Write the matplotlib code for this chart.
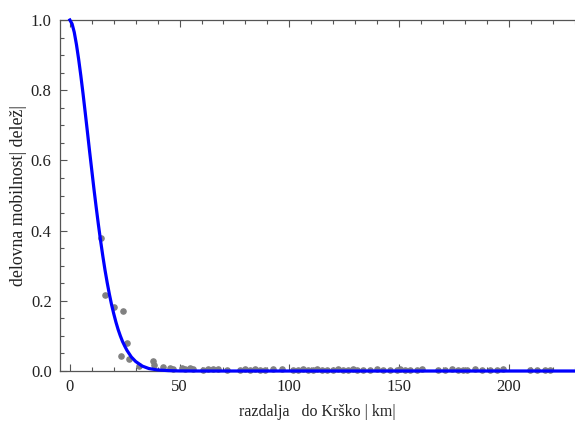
import numpy as np
import matplotlib.pyplot as plt
from matplotlib.ticker import MultipleLocator

plt.rcParams['font.family'] = ['Liberation Serif', 'DejaVu Serif']

# observed shares (gray points)
dist = [14.2, 16.1, 19.9, 24.3, 26.1, 23.1, 26.9, 31.7, 38.1, 38.4, 42.4, 45.6,
        47.0, 50.9, 52.5, 54.7, 56.0, 60.7, 62.9, 65.2, 67.5, 71.6, 77.5, 79.8,
        82.0, 84.4, 86.6, 88.9, 92.6, 96.7, 101.7, 104.0, 106.2, 108.5, 110.8,
        112.6, 114.9, 117.2, 119.9, 122.2, 124.5, 126.7, 129.0, 130.9, 133.6,
        136.8, 140.0, 142.7, 145.9, 149.0, 150.4, 152.7, 155.0, 158.2, 160.5,
        167.8, 171.0, 174.2, 176.9, 179.2, 181.0, 184.6, 187.8, 191.5, 194.6,
        197.4, 209.7, 212.9, 216.5, 218.8]
share = [0.378, 0.216, 0.181, 0.171, 0.081, 0.042, 0.033, 0.015, 0.028, 0.017,
         0.012, 0.008, 0.007, 0.009, 0.006, 0.009, 0.005, 0.004, 0.006, 0.005,
         0.006, 0.004, 0.003, 0.005, 0.004, 0.005, 0.003, 0.004, 0.005, 0.006,
         0.003, 0.004, 0.005, 0.003, 0.004, 0.005, 0.003, 0.004, 0.003, 0.005,
         0.004, 0.003, 0.005, 0.004, 0.003, 0.004, 0.005, 0.003, 0.004, 0.003,
         0.005, 0.004, 0.003, 0.004, 0.005, 0.003, 0.004, 0.005, 0.003, 0.004,
         0.003, 0.005, 0.004, 0.003, 0.004, 0.005, 0.004, 0.003, 0.004, 0.003]

# fitted curve (blue)
fit_x = [0, 1, 2, 3, 4, 5, 6, 7, 8, 9, 10, 11, 12, 13, 14, 15, 16, 17, 18,
         19, 20, 21, 22, 23, 24, 25, 26, 28, 30, 33, 36, 40, 45, 50, 60, 232]
fit_y = [1.0, 0.989, 0.965, 0.930, 0.888, 0.841, 0.790, 0.736, 0.681, 0.625,
         0.571, 0.517, 0.466, 0.417, 0.371, 0.328, 0.288, 0.252, 0.219, 0.189,
         0.163, 0.139, 0.118, 0.100, 0.084, 0.071, 0.059, 0.040, 0.027, 0.014,
         0.007, 0.003, 0.001, 0.0002, 0.0, 0.0]

fig = plt.figure(figsize=(5.75, 4.23), dpi=100)
ax = fig.add_axes([60/575, 1-371/423, 1-60/575, 351/423])

ax.scatter(dist, share, s=14, color='#808080', zorder=2, clip_on=False)
ax.plot(fit_x, fit_y, color='#0000ff', lw=2.3, zorder=3, clip_on=False,
        solid_joinstyle='round')

ax.set_xlim(-4.5, 230.2)
ax.set_ylim(0, 1.0)

ax.xaxis.set_major_locator(MultipleLocator(50))
ax.xaxis.set_minor_locator(MultipleLocator(10))
ax.yaxis.set_major_locator(MultipleLocator(0.2))
ax.yaxis.set_minor_locator(MultipleLocator(0.05))
ax.yaxis.set_major_formatter(plt.FuncFormatter(lambda v, p: f"{v:.1f}"))

ax.spines['right'].set_visible(False)
for s in ['left', 'bottom', 'top']:
    ax.spines[s].set_color('#555555')
    ax.spines[s].set_linewidth(0.9)

ax.tick_params(which='both', direction='in', top=True, right=False,
               color='#555555', width=0.8, labelsize=12, labelcolor='#222222')
ax.tick_params(which='major', length=5)
ax.tick_params(which='minor', length=3)
ax.tick_params(axis='x', pad=6)
ax.tick_params(axis='y', pad=6)

ax.set_xlabel("razdalja   do Krško | km|", fontsize=11.5, color='#222222', labelpad=6)
ax.set_ylabel("delovna mobilnost| delež|", fontsize=12.8, color='#222222', labelpad=3)

fig.savefig("out.png", dpi=100)
